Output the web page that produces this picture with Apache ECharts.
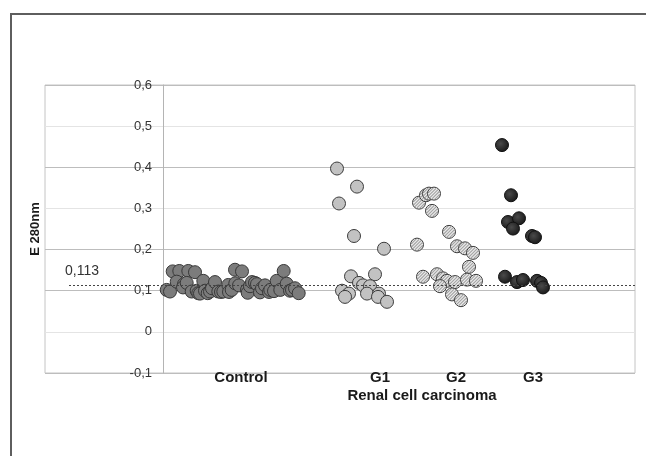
<!DOCTYPE html>
<html>
<head>
<meta charset="utf-8">
<script src="https://cdn.jsdelivr.net/npm/echarts@6/dist/echarts.min.js"></script>
<style>
  html, body { margin: 0; padding: 0; background: #fff; }
  #chart { width: 646px; height: 456px; }
</style>
</head>
<body>
<div id="chart"></div>
<script>
// x = horizontal position along the plot (arbitrary units), y = E 280nm
const control = [
  [0.37, 0.102], [0.7, 0.098], [0.97, 0.147], [1.63, 0.148], [2.53, 0.148], [3.2, 0.145],
  [1.37, 0.122], [2.1, 0.116], [2.0, 0.108], [2.37, 0.119], [2.87, 0.098], [3.37, 0.1],
  [3.53, 0.094], [3.7, 0.093], [4.03, 0.124], [4.2, 0.1], [4.47, 0.094], [4.7, 0.098],
  [4.9, 0.106], [5.2, 0.121], [5.53, 0.098], [5.8, 0.097], [6.03, 0.098], [6.53, 0.114],
  [6.6, 0.097], [6.87, 0.102], [7.2, 0.151], [7.9, 0.147], [7.23, 0.118], [7.6, 0.113],
  [8.4, 0.102], [8.47, 0.095], [8.7, 0.111], [8.9, 0.121], [9.2, 0.119], [9.4, 0.116],
  [9.7, 0.096], [9.9, 0.106], [10.2, 0.113], [10.6, 0.097], [10.73, 0.102], [11.1, 0.099],
  [11.37, 0.124], [11.73, 0.102], [12.07, 0.148], [12.37, 0.117], [12.7, 0.1], [12.9, 0.102],
  [13.2, 0.106], [13.57, 0.094]
]
const g1 = [
  [17.4, 0.397], [19.4, 0.353], [17.6, 0.312], [19.1, 0.233], [22.1, 0.202], [18.8, 0.135],
  [21.2, 0.14], [19.6, 0.119], [20.0, 0.113], [20.7, 0.111], [17.9, 0.1], [18.6, 0.093],
  [18.2, 0.085], [20.4, 0.093], [21.6, 0.093], [21.5, 0.085], [22.4, 0.073]
]
const g2 = [
  [25.6, 0.314], [26.3, 0.332], [26.6, 0.336], [27.1, 0.336], [26.9, 0.294], [28.6, 0.243],
  [25.4, 0.212], [29.4, 0.208], [30.2, 0.203], [31.0, 0.192], [30.6, 0.158], [26.0, 0.134],
  [27.4, 0.14], [28.0, 0.13], [28.4, 0.124], [29.2, 0.121], [30.4, 0.127], [31.3, 0.124],
  [27.7, 0.111], [28.9, 0.091], [29.8, 0.077]
]
const g3 = [
  [33.9, 0.454], [34.8, 0.332], [34.5, 0.267], [35.6, 0.276], [35.0, 0.251], [36.9, 0.233],
  [37.2, 0.23], [34.2, 0.134], [35.4, 0.121], [36.0, 0.126], [37.4, 0.124], [37.8, 0.119],
  [38.0, 0.108]
]
const categoryNames = ['Control', 'G1', 'G2', 'G3']
const categoryPos = [7.8, 21.7, 29.3, 37.0]
const groupTitle = 'Renal cell carcinoma'
const groupTitlePos = 25.9
const cutoff = 0.113
const cutoffLabel = '0,113'
const cutoffStart = -9.4

const font = '"Liberation Sans", Arial, sans-serif'

function comma(v) {
  if (Math.abs(v) < 1e-9) return '0'
  return (Math.round(v * 10) / 10).toFixed(1).replace('.', ',')
}

// hatched circle for G2 (scatter symbols ignore pattern fills)
function hatchedDot(params, api) {
  let p = api.coord([api.value(0), api.value(1)])
  let r = 6.5
  let kids = [{
    type: 'circle',
    shape: { cx: p[0], cy: p[1], r: r },
    style: { fill: '#ececec', stroke: null }
  }]
  let ri = r - 0.8
  for (let d = -4.5; d <= 4.6; d += 2.25) {
    let t = Math.sqrt(ri * ri - d * d)
    let cx = p[0] + d * Math.SQRT1_2
    let cy = p[1] + d * Math.SQRT1_2
    kids.push({
      type: 'line',
      shape: {
        x1: cx - t * Math.SQRT1_2, y1: cy + t * Math.SQRT1_2,
        x2: cx + t * Math.SQRT1_2, y2: cy - t * Math.SQRT1_2
      },
      style: { stroke: '#a2a2a2', lineWidth: 1.1 }
    })
  }
  kids.push({
    type: 'circle',
    shape: { cx: p[0], cy: p[1], r: r },
    style: { fill: 'none', stroke: '#3c3c3c', lineWidth: 1 }
  })
  return { type: 'group', children: kids }
}

const chart = echarts.init(document.getElementById('chart'))

chart.setOption({
  animation: false,
  graphic: [{
    type: 'rect',
    shape: { x: 11, y: 14, width: 700, height: 500 },
    style: { fill: 'none', stroke: '#5e5e5e', lineWidth: 2 },
    silent: true
  }],
  grid: {
    left: 45, right: 11, top: 85, bottom: 83,
    outerBoundsMode: 'none', containLabel: false,
    show: true, borderColor: '#c4c4c4', borderWidth: 1
  },
  xAxis: [{
    type: 'value', min: -11.8, max: 47.2, position: 'bottom',
    axisLine: { show: false, onZero: false },
    axisTick: { show: false },
    splitLine: { show: false },
    axisLabel: {
      customValues: categoryPos,
      formatter: v => categoryNames[categoryPos.indexOf(v)] || '',
      margin: -3,
      color: '#1a1a1a', fontFamily: font, fontSize: 15, fontWeight: 'bold'
    }
  }, {
    type: 'value', min: -11.8, max: 47.2, position: 'bottom',
    axisLine: { show: false, onZero: false },
    axisTick: { show: false },
    splitLine: { show: false },
    axisLabel: {
      customValues: [groupTitlePos],
      formatter: () => groupTitle,
      margin: 15,
      color: '#1a1a1a', fontFamily: font, fontSize: 15, fontWeight: 'bold'
    }
  }],
  yAxis: {
    type: 'value', min: -0.1, max: 0.6, interval: 0.1,
    offset: -118,
    name: 'E 280nm', nameLocation: 'middle', nameGap: 121,
    nameTextStyle: { color: '#1a1a1a', fontFamily: font, fontSize: 13, fontWeight: 'bold' },
    axisLine: { show: true, onZero: false, lineStyle: { color: '#b4b4b4', width: 1 } },
    axisTick: { show: false },
    axisLabel: {
      formatter: comma, margin: 11,
      color: '#333', fontFamily: font, fontSize: 13
    },
    splitLine: {
      show: true,
      lineStyle: {
        color: ['#bdbdbd', '#e4e4e4', '#bdbdbd', '#bdbdbd', '#e4e4e4', '#bdbdbd', '#e4e4e4', '#bdbdbd'],
        width: 1
      }
    }
  },
  series: [{
    name: 'Control', type: 'scatter', data: control, symbolSize: 13,
    itemStyle: { color: '#7c7c7c', borderColor: '#383838', borderWidth: 1, opacity: 1 },
    markLine: {
      silent: true, symbol: 'none',
      lineStyle: { color: '#444', type: [2, 2], width: 1 },
      label: {
        show: true, position: 'insideStartTop', formatter: cutoffLabel,
        distance: [-4, 7], color: '#333', fontFamily: font, fontSize: 14
      },
      data: [[{ coord: [cutoffStart, cutoff] }, { coord: [47.2, cutoff] }]]
    }
  }, {
    name: 'G1', type: 'scatter', data: g1, symbolSize: 13,
    itemStyle: { color: '#c2c2c2', borderColor: '#3c3c3c', borderWidth: 1, opacity: 1 }
  }, {
    name: 'G2', type: 'custom', data: g2,
    encode: { x: 0, y: 1 },
    renderItem: hatchedDot
  }, {
    name: 'G3', type: 'scatter', data: g3, symbolSize: 13,
    itemStyle: {
      color: {
        type: 'radial', x: 0.4, y: 0.4, r: 0.6,
        colorStops: [{ offset: 0, color: '#4a4a4a' }, { offset: 1, color: '#1a1a1a' }]
      },
      borderColor: '#111', borderWidth: 1, opacity: 1
    }
  }]
})
</script>
</body>
</html>
